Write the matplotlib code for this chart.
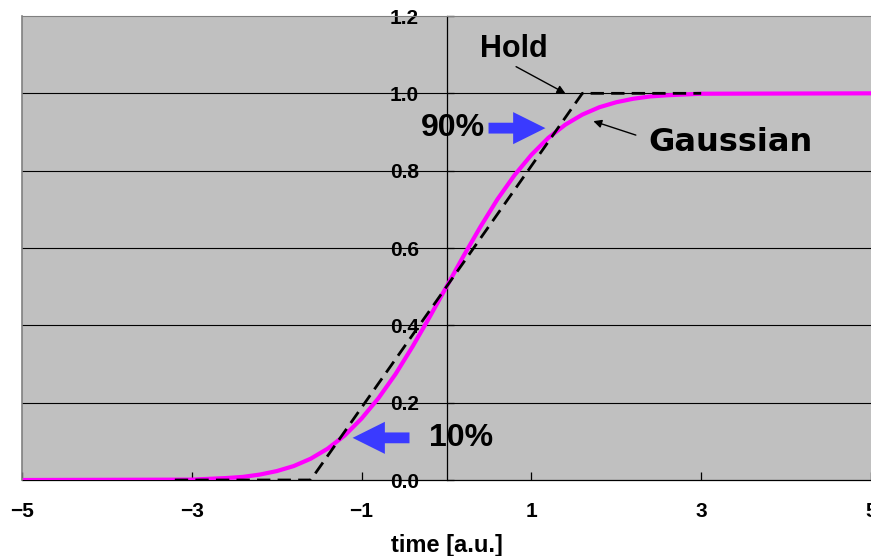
import matplotlib.pyplot as plt
from matplotlib.patches import FancyArrow

plt.rcParams['font.family'] = ['Liberation Sans', 'DejaVu Sans']
plt.rcParams['font.weight'] = 'bold'

# Gaussian edge (cumulative), sampled every 0.2
gauss_t = [-5.0, -3.0, -2.8, -2.6, -2.4, -2.2, -2.0, -1.8, -1.6, -1.4, -1.2,
           -1.0, -0.8, -0.6, -0.4, -0.2, 0.0, 0.2, 0.4, 0.6, 0.8, 1.0,
           1.2, 1.4, 1.6, 1.8, 2.0, 2.2, 2.4, 2.6, 2.8, 3.0, 5.0]
gauss_y = [0.0, 0.001, 0.003, 0.005, 0.008, 0.014, 0.023, 0.036, 0.055, 0.081, 0.115,
           0.159, 0.212, 0.274, 0.345, 0.421, 0.500, 0.579, 0.655, 0.726, 0.788, 0.841,
           0.885, 0.919, 0.945, 0.964, 0.977, 0.986, 0.992, 0.995, 0.997, 0.999, 1.0]

# linear "hold" ramp
hold_t = [-3.2, -1.6, 1.6, 3.0]
hold_y = [0.0, 0.0, 1.0, 1.0]

x_ticks = [-5, -3, -1, 1, 3, 5]
y_ticks = [0.0, 0.2, 0.4, 0.6, 0.8, 1.0, 1.2]

fig = plt.figure(figsize=(8.71, 5.56), dpi=100)
ax = fig.add_axes([22 / 871, 76 / 556, 849 / 871, 464 / 556])
ax.set_facecolor('#c0c0c0')

ax.set_xlim(-5, 5)
ax.set_ylim(0, 1.2)

for yv in y_ticks[1:-1]:
    ax.axhline(yv, color='black', lw=0.8, zorder=1)

ax.plot(gauss_t, gauss_y, color='#ff00ff', lw=3, zorder=3)
ax.plot(hold_t, hold_y, color='black', lw=2.0, dashes=(4.8, 2.6), zorder=4)

# axes frame
ax.spines['left'].set_position(('data', 0))
ax.spines['left'].set_linewidth(0.9)
ax.spines['bottom'].set_linewidth(0.9)
ax.spines['top'].set_color('#808080')
ax.spines['right'].set_visible(False)
ax.plot([0, 0], [0, 1], transform=ax.transAxes, color='#808080', lw=1.2,
        clip_on=False, zorder=5)

ax.set_xticks(x_ticks)
ax.set_xticklabels(['\u22125', '\u22123', '\u22121', '1', '3', '5'])
ax.set_yticks(y_ticks)
ax.set_yticklabels([f'{v:.1f}' for v in y_ticks])
ax.tick_params(axis='x', direction='in', length=6, width=0.9, pad=16,
               labelsize=15)
ax.tick_params(axis='y', direction='in', length=5, width=0.9, pad=20,
               labelsize=15)
ax.set_xlabel('time [a.u.]', fontsize=17, fontweight='bold', labelpad=9)

# annotations
ax.annotate('Hold', xy=(1.40, 1.0), xytext=(0.40, 1.115), fontsize=22,
            fontweight='bold', va='center', ha='left',
            arrowprops=dict(arrowstyle='-|>', color='black', lw=1,
                            shrinkA=0, shrinkB=0, mutation_scale=12,
                            relpos=(0.45, 0.0)),
            zorder=6)
ax.annotate('', xy=(1.73, 0.928), xytext=(2.23, 0.892),
            arrowprops=dict(arrowstyle='-|>', color='black', lw=1,
                            shrinkA=0, shrinkB=0, mutation_scale=12),
            zorder=6)
ax.text(2.38, 0.873, 'Gaussian', fontsize=23, fontweight='bold',
        family='DejaVu Sans', va='center', ha='left', zorder=6)

ax.add_patch(FancyArrow(0.495, 0.910, 0.67, 0.0, width=0.028, head_width=0.083,
                        head_length=0.38, length_includes_head=True,
                        color='#3a3aff', lw=0, zorder=6))
ax.text(0.45, 0.910, '90%', fontsize=23, fontweight='bold',
        va='center', ha='right', zorder=6)

ax.add_patch(FancyArrow(-0.436, 0.109, -0.67, 0.0, width=0.028, head_width=0.083,
                        head_length=0.38, length_includes_head=True,
                        color='#3a3aff', lw=0, zorder=6))
ax.text(-0.21, 0.109, '10%', fontsize=23, fontweight='bold',
        va='center', ha='left', zorder=6)

fig.savefig('out.png', dpi=100)
